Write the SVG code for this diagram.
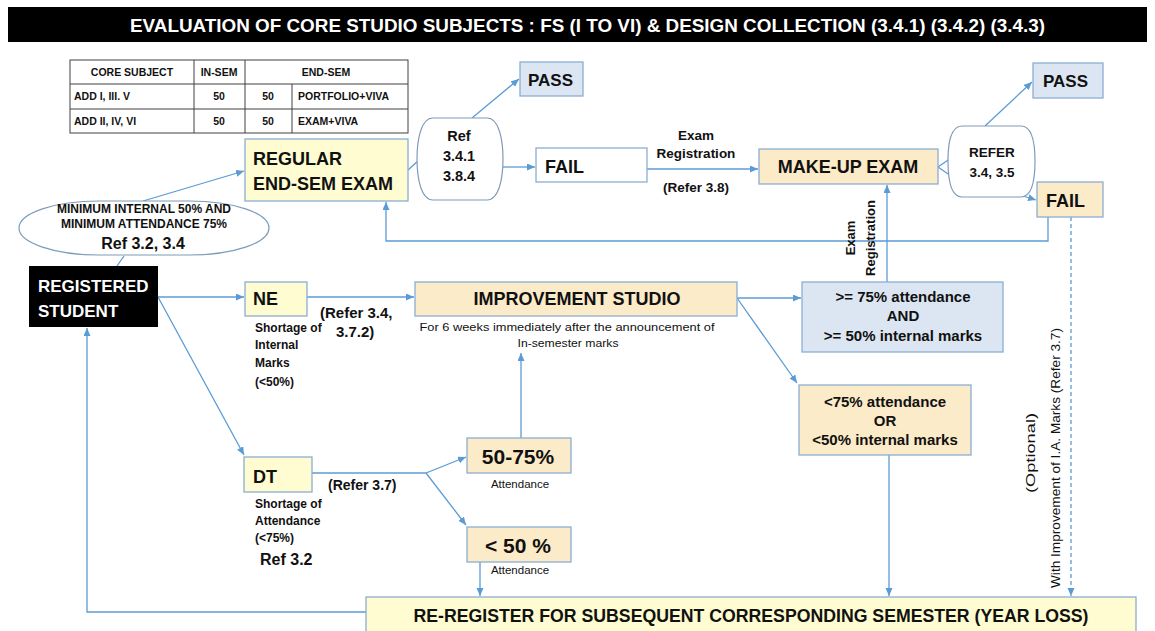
<svg xmlns="http://www.w3.org/2000/svg" width="1155" height="631" viewBox="0 0 1155 631">
<style>
text{font-family:"Liberation Sans",Arial,sans-serif;fill:#111;}
.b{font-weight:bold;}
.box{stroke:#8aaed3;stroke-width:1.3;}
.yel{fill:#fefcd0;}
.pch{fill:#fcebc8;}
.blu{fill:#dce6f2;}
.wht{fill:#ffffff;}
.c{fill:none;stroke:#5b9bd5;stroke-width:1.3;}
.ca{fill:none;stroke:#5b9bd5;stroke-width:1.3;marker-end:url(#ah);}
.tb{fill:none;stroke:#404040;stroke-width:1;}
.t10{font-size:10.5px;font-weight:bold;}
.m{text-anchor:middle;}
</style>
<defs>
<marker id="ah" markerUnits="userSpaceOnUse" markerWidth="9" markerHeight="8" refX="8" refY="3.5" orient="auto">
<path d="M0,0 L8,3.5 L0,7 z" fill="#5b9bd5"/>
</marker>
</defs>
<rect width="1155" height="631" fill="#ffffff"/>

<g id="title">
<rect x="8" y="7" width="1139" height="35" fill="#000"/>
<text x="130" y="32" class="b" font-size="18" style="fill:#fff" textLength="915" lengthAdjust="spacingAndGlyphs">EVALUATION OF CORE STUDIO SUBJECTS : FS (I TO VI) &amp; DESIGN COLLECTION (3.4.1) (3.4.2) (3.4.3)</text>
</g>

<g id="table">
<rect x="70" y="60" width="338" height="73" class="tb"/>
<line x1="70" y1="84" x2="408" y2="84" class="tb"/>
<line x1="70" y1="109" x2="408" y2="109" class="tb"/>
<line x1="194" y1="60" x2="194" y2="133" class="tb"/>
<line x1="245" y1="60" x2="245" y2="133" class="tb"/>
<line x1="292" y1="84" x2="292" y2="133" class="tb"/>
<text x="132" y="76" class="t10 m">CORE SUBJECT</text>
<text x="219" y="76" class="t10 m">IN-SEM</text>
<text x="326" y="76" class="t10 m">END-SEM</text>
<text x="74" y="100" class="t10">ADD  I, III. V</text>
<text x="219" y="100" class="t10 m">50</text>
<text x="268" y="100" class="t10 m">50</text>
<text x="298" y="100" class="t10">PORTFOLIO+VIVA</text>
<text x="74" y="125" class="t10">ADD  II, IV, VI</text>
<text x="219" y="125" class="t10 m">50</text>
<text x="268" y="125" class="t10 m">50</text>
<text x="298" y="125" class="t10">EXAM+VIVA</text>
</g>

<g id="connectors">
<line x1="117" y1="266" x2="124" y2="256" class="c"/>
<line x1="143" y1="201" x2="244" y2="171" class="ca"/>
<line x1="408" y1="170" x2="418" y2="161" class="c"/>
<line x1="472" y1="118" x2="519" y2="79" class="ca"/>
<line x1="503" y1="167" x2="535" y2="167" class="ca"/>
<line x1="647" y1="169" x2="758" y2="169" class="ca"/>
<line x1="938" y1="167" x2="951" y2="158" class="c"/>
<line x1="938" y1="167" x2="951" y2="176" class="c"/>
<line x1="985" y1="126" x2="1032" y2="82" class="ca"/>
<line x1="1023" y1="196" x2="1036" y2="200" class="ca"/>
<polyline points="1048,217 1048,241 386,241 386,202" class="ca"/>
<line x1="1071" y1="217" x2="1071" y2="596" class="ca" stroke-dasharray="4,3"/>
<line x1="887" y1="282" x2="887" y2="185" class="ca"/>
<line x1="158" y1="297" x2="244" y2="297" class="ca"/>
<line x1="158" y1="297" x2="244" y2="455" class="ca"/>
<line x1="307" y1="297" x2="414" y2="297" class="ca"/>
<line x1="737" y1="298" x2="801" y2="298" class="ca"/>
<line x1="737" y1="298" x2="797" y2="383" class="ca"/>
<line x1="889" y1="455" x2="889" y2="596" class="ca"/>
<line x1="312" y1="473" x2="426" y2="473" class="c"/>
<line x1="426" y1="473" x2="466" y2="457" class="ca"/>
<line x1="426" y1="473" x2="466" y2="525" class="ca"/>
<line x1="521" y1="438" x2="521" y2="353" class="ca"/>
<line x1="480" y1="562" x2="480" y2="596" class="ca"/>
<polyline points="366,612 87,612 87,328" class="ca"/>
</g>

<g id="criteria">
<rect x="19" y="201" width="250" height="54" rx="80" ry="27" fill="#fff" stroke="#7f9bb8" stroke-width="1.2"/>
<text x="144" y="213" class="b m" font-size="12">MINIMUM INTERNAL 50% AND</text>
<text x="144" y="228" class="b m" font-size="12">MINIMUM ATTENDANCE 75%</text>
<text x="143" y="249" class="b m" font-size="16">Ref  3.2, 3.4</text>
</g>

<g id="registered">
<rect x="29" y="266" width="129" height="61" fill="#000"/>
<text x="38" y="292" class="b" font-size="17" style="fill:#fff">REGISTERED</text>
<text x="38" y="317" class="b" font-size="17" style="fill:#fff">STUDENT</text>
</g>

<g id="regular">
<rect x="245" y="139" width="163" height="62" class="box yel"/>
<text x="253" y="165" class="b" font-size="18">REGULAR</text>
<text x="253" y="190" class="b" font-size="18">END-SEM EXAM</text>
</g>

<g id="ref1">
<path d="M433,118 H487 C499,118 503,140 503,159 C503,178 499,200 487,200 H433 C421,200 417,178 417,159 C417,140 421,118 433,118 Z" fill="#fff" stroke="#7f9bb8" stroke-width="1.2"/>
<text x="459" y="141" class="b m" font-size="14.5">Ref</text>
<text x="459" y="161" class="b m" font-size="14.5">3.4.1</text>
<text x="459" y="181" class="b m" font-size="14.5">3.8.4</text>
</g>

<g id="pass1">
<rect x="520" y="62" width="63" height="34" class="box blu"/>
<text x="528" y="86" class="b" font-size="17">PASS</text>
</g>

<g id="fail1">
<rect x="536" y="148" width="111" height="34" class="box wht"/>
<text x="545" y="173" class="b" font-size="18">FAIL</text>
</g>

<g id="examreg-label">
<text x="696" y="140" class="b m" font-size="13.5">Exam</text>
<text x="696" y="158" class="b m" font-size="13.5">Registration</text>
<text x="696" y="192" class="b m" font-size="13.5">(Refer 3.8)</text>
</g>

<g id="makeup">
<rect x="759" y="149" width="179" height="35" class="box pch"/>
<text x="848" y="173" class="b m" font-size="18">MAKE-UP EXAM</text>
</g>

<g id="refer2">
<path d="M962,126 H1021 C1033,126 1035,145 1035,161 C1035,177 1033,197 1021,197 H962 C950,197 948,177 948,161 C948,145 950,126 962,126 Z" fill="#fff" stroke="#7f9bb8" stroke-width="1.2"/>
<text x="992" y="157" class="b m" font-size="13.5">REFER</text>
<text x="992" y="177" class="b m" font-size="13.5">3.4, 3.5</text>
</g>

<g id="pass2">
<rect x="1033" y="63" width="70" height="35" class="box blu"/>
<text x="1043" y="87" class="b" font-size="17">PASS</text>
</g>

<g id="fail2">
<rect x="1037" y="182" width="66" height="35" class="box pch"/>
<text x="1046" y="207" class="b" font-size="18">FAIL</text>
</g>

<g id="examreg-vertical">
<text transform="translate(855,238) rotate(-90)" class="b m" font-size="13">Exam</text>
<text transform="translate(875,238) rotate(-90)" class="b m" font-size="13">Registration</text>
</g>

<g id="ne">
<rect x="245" y="282" width="62" height="34" class="box yel"/>
<text x="253" y="305" class="b" font-size="18">NE</text>
<text x="320" y="318" class="b" font-size="15">(Refer 3.4,</text>
<text x="336" y="337" class="b" font-size="15">3.7.2)</text>
<text x="255" y="332" class="b" font-size="12">Shortage of</text>
<text x="255" y="349" class="b" font-size="12">Internal</text>
<text x="255" y="367" class="b" font-size="12">Marks</text>
<text x="255" y="386" class="b" font-size="12">(&lt;50%)</text>
</g>

<g id="improvement">
<rect x="415" y="282" width="322" height="34" class="box pch"/>
<text x="577" y="305" class="b m" font-size="18">IMPROVEMENT STUDIO</text>
<text x="567" y="331" class="m" font-size="11.5" textLength="295" lengthAdjust="spacingAndGlyphs">For 6 weeks immediately after the announcement of</text>
<text x="568" y="347" class="m" font-size="11.5" textLength="101" lengthAdjust="spacingAndGlyphs">In-semester marks</text>
</g>

<g id="ok75">
<rect x="802" y="282" width="201" height="70" class="box blu"/>
<text x="903" y="302" class="b m" font-size="15">&gt;= 75% attendance</text>
<text x="903" y="321" class="b m" font-size="15">AND</text>
<text x="903" y="341" class="b m" font-size="15">&gt;= 50% internal marks</text>
</g>

<g id="lt75">
<rect x="799" y="385" width="172" height="70" class="box pch"/>
<text x="885" y="407" class="b m" font-size="15">&lt;75% attendance</text>
<text x="885" y="426" class="b m" font-size="15">OR</text>
<text x="885" y="445" class="b m" font-size="15">&lt;50% internal marks</text>
</g>

<g id="dt">
<rect x="244" y="457" width="68" height="35" class="box yel"/>
<text x="253" y="483" class="b" font-size="18">DT</text>
<text x="328" y="490" class="b" font-size="14">(Refer 3.7)</text>
<text x="255" y="508" class="b" font-size="12">Shortage of</text>
<text x="255" y="525" class="b" font-size="12">Attendance</text>
<text x="255" y="542" class="b" font-size="12">(&lt;75%)</text>
<text x="260" y="565" class="b" font-size="16">Ref  3.2</text>
</g>

<g id="att5075">
<rect x="467" y="438" width="104" height="35" class="box pch"/>
<text x="518" y="464" class="b m" font-size="21">50-75%</text>
<text x="520" y="488" class="m" font-size="11.5">Attendance</text>
</g>

<g id="att50">
<rect x="467" y="527" width="104" height="35" class="box pch"/>
<text x="518" y="553" class="b m" font-size="21">&lt; 50 %</text>
<text x="520" y="574" class="m" font-size="11.5">Attendance</text>
</g>

<g id="optional-label">
<text transform="translate(1035,453) rotate(-90)" class="m" font-size="13.5" textLength="80" lengthAdjust="spacingAndGlyphs">(Optional)</text>
<text transform="translate(1060,458) rotate(-90)" class="m" font-size="13.5" textLength="260" lengthAdjust="spacingAndGlyphs">With Improvement of I.A. Marks (Refer 3.7)</text>
</g>

<g id="reregister">
<rect x="366" y="597" width="770" height="45" class="box yel"/>
<text x="751" y="622" class="b m" font-size="18" textLength="675" lengthAdjust="spacingAndGlyphs">RE-REGISTER FOR SUBSEQUENT CORRESPONDING SEMESTER (YEAR LOSS)</text>
</g>
</svg>
